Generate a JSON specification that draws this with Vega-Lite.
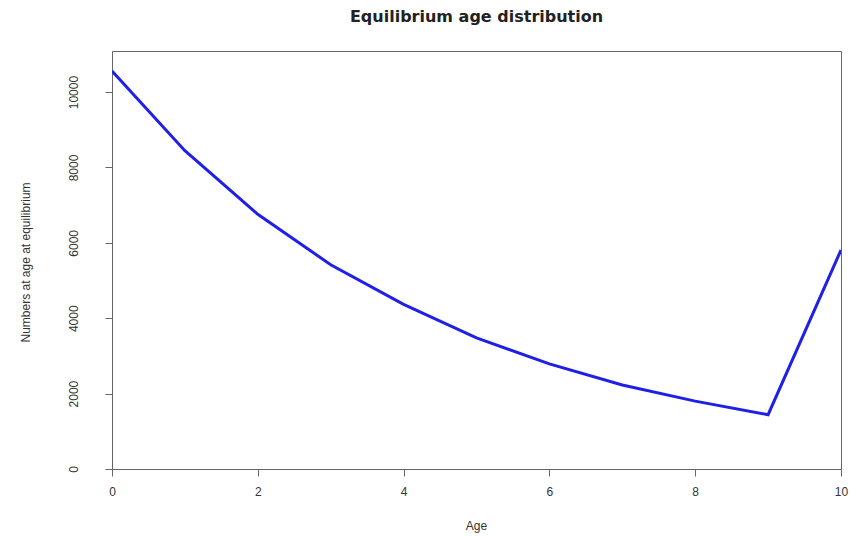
{
  "$schema": "https://vega.github.io/schema/vega-lite/v6.json",
  "width": 729,
  "height": 418,
  "autosize": {"type": "none"},
  "padding": {"left": 112, "top": 51, "right": 9, "bottom": 67},
  "background": "white",
  "title": {
    "text": "Equilibrium age distribution",
    "font": "DejaVu Sans",
    "fontSize": 16,
    "fontWeight": "bold",
    "color": "#222",
    "anchor": "middle",
    "baseline": "bottom",
    "offset": 10
  },
  "config": {
    "view": {"stroke": "#666", "strokeWidth": 1},
    "axis": {
      "font": "Liberation Sans",
      "labelFont": "Liberation Sans",
      "titleFont": "Liberation Sans",
      "labelFontSize": 12,
      "titleFontSize": 12,
      "labelColor": "#333",
      "titleColor": "#333",
      "titleFontWeight": "normal",
      "grid": false,
      "domain": false,
      "tickColor": "#666",
      "tickSize": 7,
      "tickWidth": 1
    }
  },
  "data": {
    "values": [
      {"age": 0, "n": 10557},
      {"age": 1, "n": 8446},
      {"age": 2, "n": 6757},
      {"age": 3, "n": 5420},
      {"age": 4, "n": 4370},
      {"age": 5, "n": 3480},
      {"age": 6, "n": 2790},
      {"age": 7, "n": 2230},
      {"age": 8, "n": 1800},
      {"age": 9, "n": 1440},
      {"age": 10, "n": 5810}
    ]
  },
  "mark": {"type": "line", "color": "#1f1fe8", "strokeWidth": 3, "clip": true},
  "encoding": {
    "x": {
      "field": "age",
      "type": "quantitative",
      "scale": {"domain": [0, 10], "nice": false, "zero": false},
      "axis": {
        "values": [0, 2, 4, 6, 8, 10],
        "format": "d",
        "title": "Age",
        "labelPadding": 10,
        "labelFlush": false,
        "titleX": 364,
        "titleY": 56,
        "titleBaseline": "middle",
        "titleAlign": "center"
      }
    },
    "y": {
      "field": "n",
      "type": "quantitative",
      "scale": {"domain": [0, 11090], "nice": false},
      "axis": {
        "values": [0, 2000, 4000, 6000, 8000, 10000],
        "format": "d",
        "title": "Numbers at age at equilibrium",
        "labelAngle": 270,
        "labelAlign": "center",
        "labelBaseline": "bottom",
        "labelPadding": 25,
        "labelFlush": false,
        "titleAngle": 270,
        "titleX": -87,
        "titleY": 211,
        "titleAlign": "center",
        "titleBaseline": "middle"
      }
    }
  }
}
